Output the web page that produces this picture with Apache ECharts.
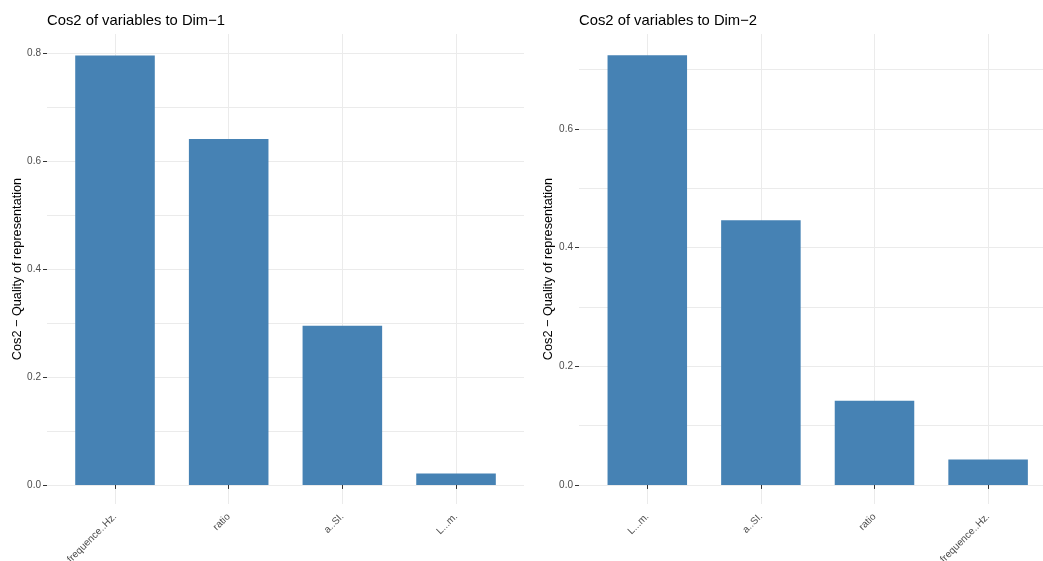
<!DOCTYPE html>
<html>
<head>
<meta charset="utf-8">
<script src="https://cdn.jsdelivr.net/npm/echarts@6/dist/echarts.min.js"></script>
<style>
  html, body { margin: 0; padding: 0; background: #ffffff; }
  #chart { width: 1043px; height: 561px; }
</style>
</head>
<body>
<div id="chart"></div>
<script>
// ---- data ----
const dim1Categories = ['frequence..Hz.', 'ratio', 'a..SI.', 'L...m.'];
const dim1Values = [0.796, 0.641, 0.295, 0.021];
const dim2Categories = ['L...m.', 'a..SI.', 'ratio', 'frequence..Hz.'];
const dim2Values = [0.724, 0.446, 0.142, 0.043];
const dim1Ticks = [0, 0.2, 0.4, 0.6, 0.8];
const dim2Ticks = [0, 0.2, 0.4, 0.6];
const dim1Range = [-0.0353, 0.8357];
const dim2Range = [-0.0321, 0.7599];
const titles = ['Cos2 of variables to Dim\u22121', 'Cos2 of variables to Dim\u22122'];
const yTitle = 'Cos2 \u2212 Quality of representation';

// ---- styles ----
const FONT = '"Liberation Sans", Arial, Helvetica, sans-serif';
const GRID_COLOR = '#ebebeb';
const TEXT_GREY = '#4d4d4d';
const BAR_COLOR = '#4682b4';

const panels = [
  { cats: dim1Categories, vals: dim1Values, ticks: dim1Ticks, range: dim1Range,
    bg: { left: 47, top: 34, width: 477, height: 470 },
    bar: { left: 58.17, top: 34, width: 454.7, height: 470 }, nameGap: 23, title: titles[0] },
  { cats: dim2Categories, vals: dim2Values, ticks: dim2Ticks, range: dim2Range,
    bg: { left: 579, top: 34, width: 477, height: 470 },
    bar: { left: 590.5, top: 34, width: 454.4, height: 470 }, nameGap: 24, title: titles[1] }
];

const grid = [], xAxis = [], yAxis = [], series = [], title = [];

panels.forEach((p, i) => {
  const gBg = grid.length;
  grid.push(Object.assign({ containLabel: false, outerBoundsMode: 'none' }, p.bg));
  const gBar = grid.length;
  grid.push(Object.assign({ containLabel: false, outerBoundsMode: 'none' }, p.bar));

  title.push({
    text: p.title, left: p.bg.left, top: 13, padding: 0,
    textStyle: { fontFamily: FONT, fontSize: 14.8, fontWeight: 'normal', color: '#000000' }
  });

  // background grid: hidden x axis
  xAxis.push({ type: 'value', gridIndex: gBg, min: 0, max: 1, show: false });

  // y axis with horizontal gridlines every 0.1
  yAxis.push({
    type: 'value', gridIndex: gBg, position: 'left', min: p.range[0], max: p.range[1],
    minInterval: 0.1, maxInterval: 0.1,
    name: yTitle, nameLocation: 'middle', nameGap: p.nameGap,
    nameTextStyle: { fontFamily: FONT, fontSize: 12.7, color: '#000000' },
    axisLine: { show: false }, axisTick: { show: false }, axisLabel: { show: false },
    splitLine: { show: true, showMinLine: false, showMaxLine: false,
      lineStyle: { color: GRID_COLOR, width: 1 } }
  });
  // y axis for labels and ticks
  yAxis.push({
    type: 'value', gridIndex: gBg, position: 'left', offset: 0, min: p.range[0], max: p.range[1],
    axisLine: { show: false },
    axisTick: { show: true, customValues: p.ticks, length: 4, inside: false,
      lineStyle: { color: '#333333', width: 1 } },
    axisLabel: { show: true, customValues: p.ticks, margin: 6,
      formatter: v => Number(v).toFixed(1),
      fontFamily: FONT, fontSize: 10, color: TEXT_GREY },
    splitLine: { show: false }
  });

  // bar grid: category axis
  xAxis.push({
    type: 'category', gridIndex: gBar, data: p.cats, boundaryGap: true,
    axisLine: { show: false },
    axisTick: { show: true, alignWithLabel: true, length: 4,
      lineStyle: { color: '#333333', width: 1 } },
    axisLabel: { rotate: 45, margin: 11, interval: 0,
      fontFamily: FONT, fontSize: 10, color: TEXT_GREY },
    splitLine: { show: true, alignWithLabel: true, lineStyle: { color: GRID_COLOR, width: 1 } }
  });
  const xBar = xAxis.length - 1;
  yAxis.push({
    type: 'value', gridIndex: gBar, min: p.range[0], max: p.range[1], show: false,
    splitLine: { show: false }
  });
  const yBar = yAxis.length - 1;

  series.push({
    type: 'bar', xAxisIndex: xBar, yAxisIndex: yBar,
    data: p.vals, barWidth: '70%',
    itemStyle: { color: BAR_COLOR },
    silent: true, z: 5
  });
});

const chart = echarts.init(document.getElementById('chart'), null, { renderer: 'canvas' });
chart.setOption({
  animation: false,
  backgroundColor: '#ffffff',
  textStyle: { fontFamily: FONT },
  title, grid, xAxis, yAxis, series
});
</script>
</body>
</html>
